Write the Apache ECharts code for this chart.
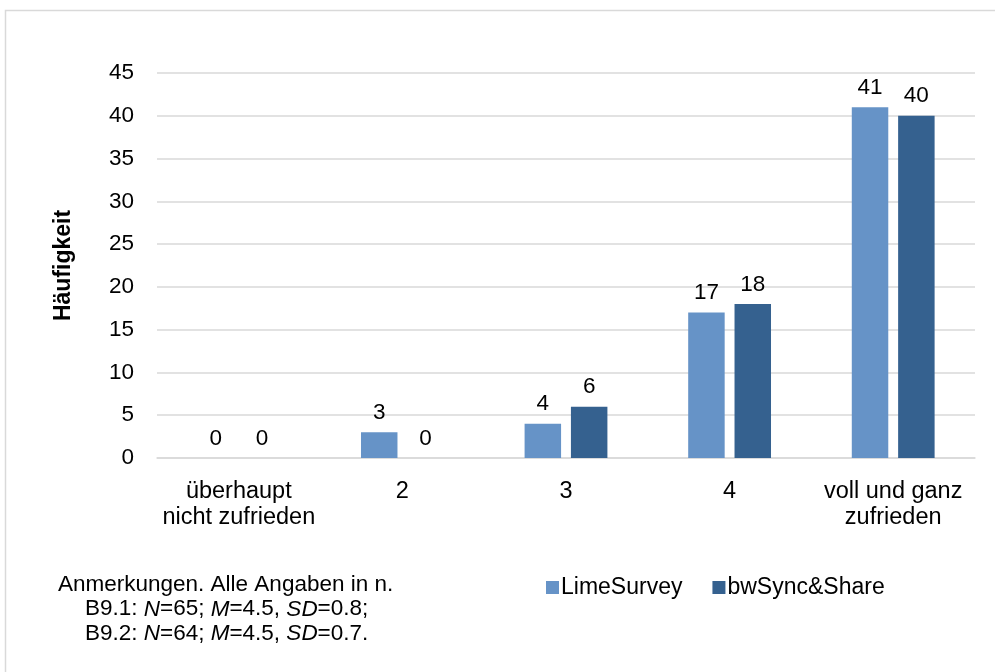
<!DOCTYPE html>
<html>
<head>
<meta charset="utf-8">
<script src="https://cdn.jsdelivr.net/npm/echarts@6/dist/echarts.min.js"></script>
<style>
  html, body { margin: 0; padding: 0; background: #fff; }
  #chart { width: 995px; height: 672px; }
</style>
</head>
<body>
<div id="chart"></div>
<script>
// Satisfaction ratings (1 = überhaupt nicht zufrieden ... 5 = voll und ganz zufrieden)
const categories = ['überhaupt\nnicht zufrieden', '2', '3', '4', 'voll und ganz\nzufrieden'];
const seriesNames = ['LimeSurvey', 'bwSync&Share'];
const limeSurvey = [0, 3, 4, 17, 41];
const bwSyncShare = [0, 0, 6, 18, 40];
const yTicks = { min: 0, max: 45, interval: 5 };

const FONT = '"Liberation Sans", Arial, sans-serif';
const FS = 22.5;
const colors = ['#6693c7', '#35618f'];

const chart = echarts.init(document.getElementById('chart'), null, { renderer: 'canvas' });

const labelStyle = {
  show: true,
  position: 'top',
  distance: 8,
  color: '#000',
  fontFamily: FONT,
  fontSize: FS
};

chart.setOption({
  backgroundColor: '#fff',
  animation: false,
  grid: { left: 157, right: 20, top: 73, bottom: 214, containLabel: false },
  legend: {
    left: 541,
    top: 571,
    itemWidth: 13,
    itemHeight: 13,
    itemGap: 30,
    icon: 'rect',
    textStyle: { fontFamily: FONT, fontSize: 23, color: '#000', padding: [0, 0, 0, -3] },
    data: seriesNames
  },
  xAxis: {
    type: 'category',
    data: categories,
    axisLine: { lineStyle: { color: '#d9d9d9', width: 1.5 } },
    axisTick: { show: false },
    axisLabel: {
      color: '#000', fontFamily: FONT, fontSize: 23.5, lineHeight: 26,
      margin: 21, interval: 0
    }
  },
  yAxis: {
    type: 'value',
    min: yTicks.min,
    max: yTicks.max,
    interval: yTicks.interval,
    name: 'Häufigkeit',
    nameLocation: 'middle',
    nameGap: 82,
    nameRotate: 90,
    nameTextStyle: { fontFamily: FONT, fontSize: 23, fontWeight: 'bold', color: '#000' },
    axisLine: { show: false },
    axisTick: { show: false },
    axisLabel: { color: '#000', fontFamily: FONT, fontSize: FS, margin: 23 },
    splitLine: { lineStyle: { color: '#d9d9d9', width: 1.5 } }
  },
  series: [
    {
      name: seriesNames[0],
      type: 'bar',
      data: limeSurvey,
      barWidth: '22.3%',
      barGap: '27%',
      itemStyle: { color: colors[0] },
      label: labelStyle
    },
    {
      name: seriesNames[1],
      type: 'bar',
      data: bwSyncShare,
      barWidth: '22.3%',
      itemStyle: { color: colors[1] },
      label: labelStyle
    }
  ],
  graphic: [
    {
      type: 'rect',
      shape: { x: 5.5, y: 10.5, width: 1200, height: 900 },
      style: { fill: null, stroke: '#d9d9d9', lineWidth: 1.5 },
      silent: true
    },
    {
      type: 'text',
      left: 58,
      top: 573,
      style: {
        text: 'Anmerkungen. Alle Angaben in n.',
        fontFamily: FONT, fontSize: FS, fill: '#000'
      }
    },
    {
      type: 'text',
      left: 85,
      top: 597,
      style: {
        text: 'B9.1: {i|N}=65; {i|M}=4.5, {i|SD}=0.8;\nB9.2: {i|N}=64; {i|M}=4.5, {i|SD}=0.7.',
        fontFamily: FONT, fontSize: FS, fill: '#000', lineHeight: 24.5,
        rich: { i: { fontStyle: 'italic', fontFamily: FONT, fontSize: FS, fill: '#000' } }
      }
    }
  ]
});
</script>
</body>
</html>
